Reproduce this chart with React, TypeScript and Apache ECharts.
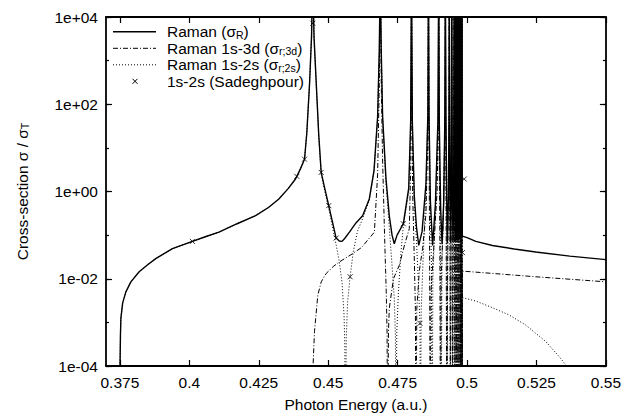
import React, { useEffect, useRef } from "react";
import * as echarts from "echarts";

// ---- data ----
const xTickValues = [0.375, 0.4, 0.425, 0.45, 0.475, 0.5, 0.525, 0.55];
const yLabelValues = [1e-4, 1e-2, 1, 1e2, 1e4];

const seriesNames = [
  "Raman (σR)",
  "Raman 1s-3d (σr;3d)",
  "Raman 1s-2s (σr;2s)",
  "1s-2s (Sadeghpour)",
];

// total Raman cross-section (solid)
const ramanTotal: [number, number][] = [
  [0.375, 1e-6], [0.37505, 1e-4], [0.3752, 5e-4], [0.37536, 1.24e-3], [0.376, 2.8e-3],
  [0.37716, 5.0e-3], [0.37895, 8.5e-3], [0.38194, 0.0145], [0.385, 0.021], [0.3879, 0.029],
  [0.39394, 0.049], [0.4011, 0.0718], [0.406, 0.093], [0.41068, 0.117], [0.417, 0.18],
  [0.42387, 0.281], [0.4285, 0.43], [0.43224, 0.675], [0.4355, 1.15], [0.43824, 1.93],
  [0.44, 3.3], [0.44148, 5.5], [0.4423, 21.9], [0.4433, 302], [0.444, 3500],
  [0.44446, 1e5], [0.4449, 3500], [0.4457, 302], [0.4466, 20], [0.44748, 2.74],
  [0.4488, 1.15], [0.4502, 0.474], [0.45286, 0.0857], [0.454, 0.0735], [0.455, 0.0718],
  [0.456, 0.085], [0.45765, 0.117], [0.46, 0.19], [0.4624, 0.277], [0.4648, 0.675],
  [0.4665, 3], [0.4678, 52], [0.4684, 1740], [0.46875, 1e5], [0.4691, 1740],
  [0.4696, 52], [0.4708, 2], [0.472, 0.277], [0.473, 0.1], [0.4738, 0.0635],
  [0.4748, 0.1], [0.47705, 0.182], [0.479, 1.2], [0.4797, 40], [0.48, 1e5],
  [0.4803, 40], [0.481, 0.8], [0.4818, 0.15], [0.4826, 0.058], [0.4838, 0.12],
  [0.4852, 1.5], [0.4859, 60], [0.48611, 1e5], [0.4863, 60], [0.4868, 0.6],
  [0.48759, 0.058], [0.4886, 0.5], [0.4895, 40], [0.4898, 1e5], [0.49, 40],
  [0.4905, 0.4], [0.491, 0.062], [0.4916, 0.6], [0.492, 50], [0.49219, 1e5],
  [0.4924, 50], [0.4927, 0.5], [0.4929, 0.065], [0.4933, 0.8], [0.4935, 60],
  [0.4936, 1e5], [0.4937, 60], [0.4939, 0.5], [0.4941, 0.068], [0.4943, 1.0],
  [0.4945, 1e5], [0.4947, 0.9], [0.49495, 0.07], [0.4952, 1.2], [0.49537, 1e5],
  [0.4955, 1.0], [0.4957, 0.072], [0.4958, 1.5], [0.4959, 1e5], [0.496, 1.2],
  [0.4962, 0.075], [0.4963, 2], [0.49645, 1e5], [0.4966, 1.5], [0.49672, 0.078],
  [0.4968, 2], [0.4969, 1e5], [0.497, 2], [0.49715, 0.08], [0.4972, 2.5],
  [0.49735, 1e5], [0.4975, 2], [0.4976, 0.085], [0.49765, 3], [0.4977, 1e5],
  [0.49775, 3], [0.4979, 0.09], [0.49795, 3], [0.498, 1e5], [0.49805, 3],
  [0.4981, 0.09], [0.4982, 1e5], [0.49825, 3], [0.4983, 0.095], [0.4985, 0.095],
  [0.5, 0.088], [0.50317, 0.0718], [0.50914, 0.058], [0.517, 0.048], [0.52473, 0.041],
  [0.537, 0.033], [0.55, 0.0275],
];

// Raman 1s-3d (dash-dot)
const raman3d: [number, number][] = [
  [0.44446, 1e-6], [0.44455, 1e-4], [0.44507, 6.2e-4], [0.44626, 4.2e-3], [0.4475, 0.0085],
  [0.44927, 0.0132], [0.452, 0.0195], [0.45405, 0.0243], [0.45883, 0.0377], [0.462, 0.052],
  [0.46365, 0.0695], [0.46663, 0.117], [0.4678, 2.5], [0.4684, 300], [0.46875, 1e5],
  [0.4691, 300], [0.4696, 5], [0.4703, 0.1], [0.4709, 0.005], [0.4712, 6e-4],
  [0.4714, 1e-6], [0.4717, 6e-4], [0.472, 0.0021], [0.4735, 0.01], [0.47561, 0.0204],
  [0.4775, 0.06], [0.4792, 0.14], [0.4797, 3], [0.47985, 100], [0.48, 1e5],
  [0.48015, 100], [0.4804, 1], [0.481, 0.03], [0.4814, 0.002], [0.48161, 1e-6],
  [0.4819, 0.002], [0.4828, 0.015], [0.484, 0.05], [0.4852, 0.3], [0.4859, 20],
  [0.48611, 1e5], [0.4863, 20], [0.4865, 0.1], [0.4867, 1e-6], [0.487, 0.005],
  [0.488, 0.05], [0.4892, 1], [0.4897, 50], [0.4898, 1e5], [0.4899, 50],
  [0.4902, 0.1], [0.4904, 1e-6], [0.4907, 0.01], [0.4915, 0.3], [0.4921, 100],
  [0.49219, 1e5], [0.4923, 100], [0.4925, 0.05], [0.4927, 1e-6], [0.493, 0.02],
  [0.4935, 10], [0.4936, 1e5], [0.4937, 10], [0.4939, 0.01], [0.494, 1e-6],
  [0.4942, 0.05], [0.4945, 1e5], [0.4946, 0.1], [0.4948, 1e-6], [0.495, 0.05],
  [0.49537, 1e5], [0.4955, 0.05], [0.49565, 1e-6], [0.4958, 0.1], [0.4959, 1e5],
  [0.496, 0.1], [0.4961, 1e-6], [0.4963, 0.2], [0.49645, 1e5], [0.4966, 0.2],
  [0.4967, 1e-6], [0.4968, 0.2], [0.4969, 1e5], [0.497, 0.2], [0.49715, 1e-6],
  [0.4972, 0.3], [0.49735, 1e5], [0.4975, 0.3], [0.4976, 1e-6], [0.49765, 0.3],
  [0.4977, 1e5], [0.49775, 0.3], [0.4979, 1e-6], [0.49795, 0.3], [0.498, 1e5],
  [0.49805, 0.3], [0.49815, 1e-6], [0.4982, 1e5], [0.49825, 0.3], [0.4983, 1e-6],
  [0.49834, 0.0149], [0.5, 0.0147], [0.5247, 0.0111], [0.55, 0.0085],
];

// Raman 1s-2s (dotted)
const raman2s: [number, number][] = [
  [0.375, 1e-6], [0.37505, 1e-4], [0.3752, 5e-4], [0.37536, 1.24e-3], [0.376, 2.8e-3],
  [0.37716, 5.0e-3], [0.37895, 8.5e-3], [0.38194, 0.0145], [0.385, 0.021], [0.3879, 0.029],
  [0.39394, 0.049], [0.4011, 0.0718], [0.406, 0.093], [0.41068, 0.117], [0.417, 0.18],
  [0.42387, 0.281], [0.4285, 0.43], [0.43224, 0.675], [0.4355, 1.15], [0.43824, 1.93],
  [0.44, 3.3], [0.44148, 5.5], [0.4423, 21.9], [0.4433, 302], [0.444, 3500],
  [0.44446, 1e5], [0.4449, 3400], [0.4457, 290], [0.4466, 18], [0.44748, 2.5],
  [0.4488, 1.0], [0.4502, 0.4], [0.45286, 0.06], [0.454, 0.025], [0.455, 0.008],
  [0.4557, 0.0015], [0.456, 3e-4], [0.4562, 1e-6], [0.4565, 4e-4], [0.457, 0.003],
  [0.45789, 0.0111], [0.459, 0.04], [0.4605, 0.12], [0.4624, 0.24], [0.4648, 0.62],
  [0.4665, 2.9], [0.4678, 50], [0.4684, 1700], [0.46875, 1e5], [0.4691, 1700],
  [0.4696, 50], [0.4708, 1.6], [0.472, 0.15], [0.473, 0.02], [0.4738, 0.0035],
  [0.4742, 5e-4], [0.47444, 1e-6], [0.4747, 6e-4], [0.4753, 0.005], [0.4762, 0.04],
  [0.47705, 0.16], [0.479, 1.0], [0.4797, 38], [0.48, 1e5], [0.4803, 38],
  [0.481, 0.6], [0.4818, 0.07], [0.4825, 0.008], [0.48305, 0.00095], [0.4832, 1e-6],
  [0.4835, 0.002], [0.4842, 0.03], [0.4852, 1.2], [0.4859, 55], [0.48611, 1e5],
  [0.4863, 55], [0.4868, 0.4], [0.4872, 0.02], [0.48745, 1e-6], [0.4877, 0.01],
  [0.4886, 0.4], [0.4895, 38], [0.4898, 1e5], [0.49, 38], [0.4904, 0.2],
  [0.49065, 1e-6], [0.491, 0.03], [0.4916, 0.5], [0.492, 48], [0.49219, 1e5],
  [0.4924, 48], [0.49265, 0.1], [0.4928, 1e-6], [0.4931, 0.3], [0.4935, 55],
  [0.4936, 1e5], [0.4937, 55], [0.49385, 0.05], [0.49395, 1e-6], [0.4942, 0.5],
  [0.4945, 1e5], [0.4947, 0.5], [0.49483, 1e-6], [0.4951, 0.6], [0.49537, 1e5],
  [0.4955, 0.5], [0.4956, 1e-6], [0.4958, 1], [0.4959, 1e5], [0.496, 0.8],
  [0.49612, 1e-6], [0.4963, 1.5], [0.49645, 1e5], [0.4966, 1], [0.49665, 1e-6],
  [0.4968, 1.5], [0.4969, 1e5], [0.497, 1.5], [0.4971, 1e-6], [0.4972, 2],
  [0.49735, 1e5], [0.4975, 1.5], [0.49755, 1e-6], [0.49765, 2], [0.4977, 1e5],
  [0.49775, 2], [0.4978, 1e-6], [0.49795, 2], [0.498, 1e5], [0.49805, 2],
  [0.49812, 1e-6], [0.4982, 1e5], [0.49825, 2], [0.4983, 1e-6],
  [0.49834, 0.0037], [0.50317, 0.00308], [0.50914, 0.00217], [0.51514, 0.00148],
  [0.5211, 0.00087], [0.5283, 0.000366], [0.5331, 0.000166], [0.5355, 0.000107],
  [0.5372, 5e-5],
];

// Sadeghpour 1s-2s points (crosses)
const sadeghpour: [number, number][] = [
  [0.4011, 0.0718], [0.43871, 2.22], [0.44148, 5.51], [0.44446, 7200], [0.44748, 2.74],
  [0.4502, 0.474], [0.45286, 0.0857], [0.45789, 0.0111], [0.47705, 0.182],
  [0.48305, 0.00095], [0.49834, 0.0398], [0.49897, 1.93],
];

const FONT = "'Liberation Sans', Arial, Helvetica, sans-serif";
const FS = 15.5;

function fmtExp(v: number): string {
  const e = Math.round(Math.log10(v));
  if (e % 2 !== 0) return "";
  const s = e < 0 ? "-" : "+";
  return "1e" + s + String(Math.abs(e)).padStart(2, "0");
}

export default function App() {
  const ref = useRef<HTMLDivElement>(null);
  useEffect(() => {
    const chart = echarts.init(ref.current!, null, { renderer: "svg" });
    const axisLine = { show: true, onZero: false, lineStyle: { color: "#000", width: 1.8 } };
    const tickStyle = { color: "#000", width: 1.2 };
    const logAxisBase = {
      type: "log" as const,
      logBase: 10,
      min: 1e-4,
      max: 1e4,
      splitNumber: 8,
      splitLine: { show: false },
    };
    const sub = {
      fontSize: 10.5,
      fontFamily: FONT,
      color: "#000",
      verticalAlign: "bottom" as const,
      height: 10,
    };
    const legendRows = [31.8, 48.3, 64.8, 81.3];
    const legendTexts = [
      "Raman (σ{sub|R})",
      "Raman 1s-3d (σ{sub|r;3d})",
      "Raman 1s-2s (σ{sub|r;2s})",
      "1s-2s (Sadeghpour)",
    ];
    const option: any = {
      animation: false,
      backgroundColor: "#fff",
      grid: { left: 106, right: 17, top: 17, bottom: 49, containLabel: false },
      xAxis: [
        {
          type: "value",
          min: 0.37,
          max: 0.55,
          position: "bottom",
          axisLine,
          axisTick: { show: true, inside: true, length: 6, customValues: xTickValues, lineStyle: tickStyle },
          axisLabel: { customValues: xTickValues, margin: 8, color: "#000", fontSize: FS, fontFamily: FONT },
          splitLine: { show: false },
          name: "Photon Energy (a.u.)",
          nameLocation: "middle",
          nameGap: 30,
          nameTextStyle: { color: "#000", fontSize: FS, fontFamily: FONT },
        },
        {
          type: "value",
          min: 0.37,
          max: 0.55,
          position: "top",
          axisLine,
          axisTick: { show: true, inside: true, length: 6, customValues: xTickValues, lineStyle: tickStyle },
          axisLabel: { show: false },
          splitLine: { show: false },
        },
      ],
      yAxis: [
        {
          ...logAxisBase,
          position: "left",
          axisLine,
          axisTick: { show: true, inside: true, length: 6, customValues: yLabelValues, lineStyle: tickStyle },
          axisLabel: {
            customValues: yLabelValues,
            margin: 8,
            color: "#000",
            fontSize: FS,
            fontFamily: FONT,
            formatter: fmtExp,
          },
          name: "Cross-section σ / σ{sub|T}",
          nameLocation: "middle",
          nameRotate: 90,
          nameGap: 76,
          nameTextStyle: { color: "#000", fontSize: FS, fontFamily: FONT, lineHeight: 16, rich: { sub } },
        },
        {
          ...logAxisBase,
          position: "left",
          axisLine: { show: false, onZero: false },
          axisTick: { show: true, inside: true, length: 3, lineStyle: tickStyle },
          axisLabel: { show: false },
        },
        {
          ...logAxisBase,
          position: "right",
          axisLine,
          axisTick: { show: true, inside: true, length: 6, customValues: yLabelValues, lineStyle: tickStyle },
          axisLabel: { show: false },
        },
        {
          ...logAxisBase,
          position: "right",
          axisLine: { show: false, onZero: false },
          axisTick: { show: true, inside: true, length: 3, lineStyle: tickStyle },
          axisLabel: { show: false },
        },
      ],
      series: [
        {
          type: "line",
          name: seriesNames[2],
          data: raman2s,
          showSymbol: false,
          symbol: "none",
          clip: true,
          z: 2,
          lineStyle: { color: "#000", width: 1, type: [1, 2] },
        },
        {
          type: "line",
          name: seriesNames[1],
          data: raman3d,
          showSymbol: false,
          symbol: "none",
          clip: true,
          z: 3,
          lineStyle: { color: "#000", width: 1, type: [5, 2, 1, 2] },
        },
        {
          type: "line",
          name: seriesNames[0],
          data: ramanTotal,
          showSymbol: false,
          symbol: "none",
          clip: true,
          z: 4,
          lineStyle: { color: "#000", width: 1.4 },
        },
        {
          type: "scatter",
          name: seriesNames[3],
          data: sadeghpour,
          symbol: "path://M0,0L10,10M10,0L0,10",
          symbolSize: 5,
          clip: true,
          z: 5,
          itemStyle: { color: "none", borderColor: "#000", borderWidth: 1 },
        },
      ],
      graphic: [
        { type: "line", shape: { x1: 113, y1: legendRows[0], x2: 156, y2: legendRows[0] }, style: { stroke: "#000", lineWidth: 1.4 } },
        { type: "line", shape: { x1: 113, y1: legendRows[1], x2: 156, y2: legendRows[1] }, style: { stroke: "#000", lineWidth: 1, lineDash: [5, 2, 1, 2] } },
        { type: "line", shape: { x1: 113, y1: legendRows[2], x2: 156, y2: legendRows[2] }, style: { stroke: "#000", lineWidth: 1, lineDash: [1, 2] } },
        { type: "line", shape: { x1: 132.5, y1: legendRows[3] - 2.5, x2: 137.5, y2: legendRows[3] + 2.5 }, style: { stroke: "#000", lineWidth: 1 } },
        { type: "line", shape: { x1: 137.5, y1: legendRows[3] - 2.5, x2: 132.5, y2: legendRows[3] + 2.5 }, style: { stroke: "#000", lineWidth: 1 } },
        ...legendTexts.map((t, i) => ({
          type: "text",
          x: 167,
          y: legendRows[i],
          style: {
            text: t,
            fill: "#000",
            fontSize: FS,
            fontFamily: FONT,
            lineHeight: 16,
            align: "left",
            verticalAlign: "middle",
            rich: { sub },
          },
        })),
      ],
    };
    chart.setOption(option);
    return () => chart.dispose();
  }, []);
  return (
    <div
      ref={ref}
      style={{ position: "fixed", left: 0, top: 0, width: 624, height: 417, background: "#fff" }}
    />
  );
}
